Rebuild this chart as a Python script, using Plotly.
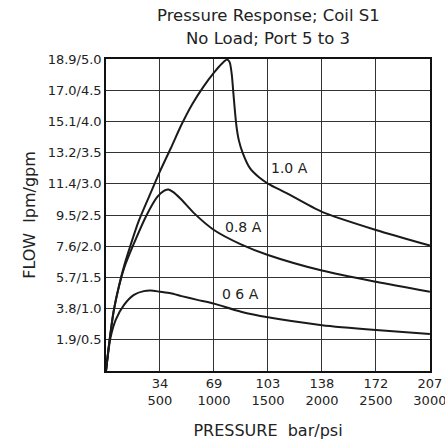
import plotly.graph_objects as go

# Tick values / labels
x_tickvals = [500, 1000, 1500, 2000, 2500, 3000]
x_ticktext = ["34<br>500", "69<br>1000", "103<br>1500", "138<br>2000", "172<br>2500", "207<br>3000"]
y_tickvals = [0.5, 1.0, 1.5, 2.0, 2.5, 3.0, 3.5, 4.0, 4.5, 5.0]
y_ticktext = ["1.9/0.5", "3.8/1.0", "5.7/1.5", "7.6/2.0", "9.5/2.5",
              "11.4/3.0", "13.2/3.5", "15.1/4.0", "17.0/4.5", "18.9/5.0"]

# Series (psi, gpm)
psi_10 = [0, 30, 70, 120, 170, 228, 300, 400, 500, 600, 700, 800, 900, 1000, 1070, 1120, 1145, 1165, 1180, 1195, 1210, 1230, 1265, 1333, 1420, 1503, 1673, 2000, 2500, 3000]
gpm_10 = [0, 0.45, 0.95, 1.36, 1.70, 2.02, 2.39, 2.8, 3.2, 3.57, 3.95, 4.28, 4.55, 4.78, 4.92, 4.99, 4.95, 4.75, 4.45, 4.15, 3.9, 3.7, 3.5, 3.25, 3.1, 3.0, 2.85, 2.55, 2.26, 2.01]

psi_08 = [0, 30, 70, 120, 170, 253, 377, 475, 540, 580, 620, 691, 815, 1000, 1250, 1500, 2000, 2500, 3000]
gpm_08 = [0, 0.45, 0.95, 1.36, 1.66, 2.02, 2.5, 2.79, 2.89, 2.91, 2.87, 2.76, 2.53, 2.26, 2.03, 1.86, 1.61, 1.43, 1.27]

psi_06 = [0, 40, 90, 167, 259, 350, 414, 500, 599, 700, 846, 1000, 1250, 1500, 2000, 2500, 3000]
gpm_06 = [0, 0.52, 0.82, 1.06, 1.22, 1.28, 1.29, 1.27, 1.245, 1.20, 1.14, 1.08, 0.95, 0.86, 0.735, 0.657, 0.593]

labels = ["1.0 A", "0.8 A", "0 6 A"]
label_x = [1704, 1269, 1245]
label_y = [3.25, 2.31, 1.23]

title_lines = ["Pressure Response; Coil S1", "No Load; Port 5 to 3"]

FONT = "DejaVu Sans"

fig = go.Figure()
for xs, ys in [(psi_10, gpm_10), (psi_08, gpm_08), (psi_06, gpm_06)]:
    fig.add_trace(go.Scatter(x=xs, y=ys, mode="lines",
                             line=dict(color="#1a1a1a", width=2, shape="spline", smoothing=0.7),
                             showlegend=False, hoverinfo="skip"))

for t, lx, ly in zip(labels, label_x, label_y):
    fig.add_annotation(x=lx, y=ly, text=t, showarrow=False,
                       font=dict(family=FONT, size=14, color="#222"),
                       xanchor="center", yanchor="middle")

for t, py in zip(title_lines, [1.139, 1.067]):
    fig.add_annotation(x=0.5, y=py, xref="paper", yref="paper", text=t, showarrow=False,
                       font=dict(family=FONT, size=16.5, color="#222"),
                       xanchor="center", yanchor="middle")

fig.update_layout(
    width=445, height=441,
    margin=dict(l=106, r=15, t=59, b=70),
    paper_bgcolor="white", plot_bgcolor="white",
    font=dict(family=FONT, color="#222"),
)
fig.update_xaxes(range=[0, 3001], tickvals=x_tickvals, ticktext=x_ticktext,
                 showgrid=True, gridcolor="#333", gridwidth=1,
                 showline=True, linecolor="#111", linewidth=1.5, mirror=True,
                 ticks="", zeroline=False, automargin=False, ticklabeloverflow="allow",
                 tickfont=dict(family=FONT, size=13, color="#222"),
                 title=dict(text="PRESSURE\u00a0\u00a0bar/psi", font=dict(family=FONT, size=16, color="#222"),
                            standoff=18))
fig.update_yaxes(range=[0, 5], tickvals=y_tickvals, ticktext=y_ticktext,
                 showgrid=True, gridcolor="#333", gridwidth=1,
                 showline=True, linecolor="#111", linewidth=1.5, mirror=True,
                 ticks="", zeroline=False, automargin=False,
                 tickfont=dict(family=FONT, size=13, color="#222"),
                 title=dict(text="FLOW\u00a0\u00a0lpm/gpm", font=dict(family=FONT, size=16, color="#222"),
                            standoff=8))

fig.write_html("out.html", config={"displayModeBar": False},
               post_script="document.body.style.margin='0';")
